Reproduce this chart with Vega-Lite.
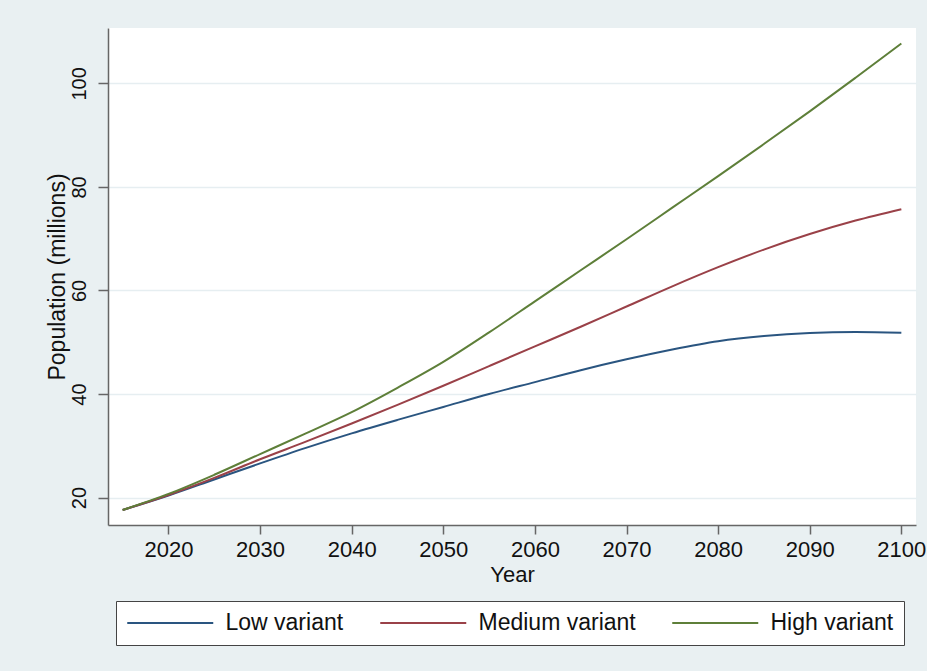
{
  "$schema": "https://vega.github.io/schema/vega-lite/v6.json",
  "autosize": {"type": "none"},
  "padding": {"left": 108, "top": 28, "right": 11, "bottom": 146},
  "width": 808,
  "height": 497,
  "background": "#e9f0f2",
  "config": {
    "font": "Liberation Sans",
    "view": {"fill": "#ffffff", "stroke": null}
  },
  "data": {
    "values": [
      {"Year": 2015, "Variant": "Low variant", "Pop": 17.6},
      {"Year": 2020, "Variant": "Low variant", "Pop": 20.4},
      {"Year": 2025, "Variant": "Low variant", "Pop": 23.5},
      {"Year": 2030, "Variant": "Low variant", "Pop": 26.6},
      {"Year": 2035, "Variant": "Low variant", "Pop": 29.6},
      {"Year": 2040, "Variant": "Low variant", "Pop": 32.4},
      {"Year": 2045, "Variant": "Low variant", "Pop": 35.0},
      {"Year": 2050, "Variant": "Low variant", "Pop": 37.5},
      {"Year": 2055, "Variant": "Low variant", "Pop": 40.0},
      {"Year": 2060, "Variant": "Low variant", "Pop": 42.3},
      {"Year": 2065, "Variant": "Low variant", "Pop": 44.6},
      {"Year": 2070, "Variant": "Low variant", "Pop": 46.7},
      {"Year": 2075, "Variant": "Low variant", "Pop": 48.6},
      {"Year": 2080, "Variant": "Low variant", "Pop": 50.2},
      {"Year": 2085, "Variant": "Low variant", "Pop": 51.2},
      {"Year": 2090, "Variant": "Low variant", "Pop": 51.8},
      {"Year": 2095, "Variant": "Low variant", "Pop": 52.0},
      {"Year": 2100, "Variant": "Low variant", "Pop": 51.85},
      {"Year": 2015, "Variant": "Medium variant", "Pop": 17.6},
      {"Year": 2020, "Variant": "Medium variant", "Pop": 20.5},
      {"Year": 2025, "Variant": "Medium variant", "Pop": 23.8},
      {"Year": 2030, "Variant": "Medium variant", "Pop": 27.4},
      {"Year": 2035, "Variant": "Medium variant", "Pop": 30.8},
      {"Year": 2040, "Variant": "Medium variant", "Pop": 34.3},
      {"Year": 2045, "Variant": "Medium variant", "Pop": 37.9},
      {"Year": 2050, "Variant": "Medium variant", "Pop": 41.6},
      {"Year": 2055, "Variant": "Medium variant", "Pop": 45.4},
      {"Year": 2060, "Variant": "Medium variant", "Pop": 49.2},
      {"Year": 2065, "Variant": "Medium variant", "Pop": 53.0},
      {"Year": 2070, "Variant": "Medium variant", "Pop": 56.9},
      {"Year": 2075, "Variant": "Medium variant", "Pop": 60.8},
      {"Year": 2080, "Variant": "Medium variant", "Pop": 64.5},
      {"Year": 2085, "Variant": "Medium variant", "Pop": 67.9},
      {"Year": 2090, "Variant": "Medium variant", "Pop": 70.9},
      {"Year": 2095, "Variant": "Medium variant", "Pop": 73.5},
      {"Year": 2100, "Variant": "Medium variant", "Pop": 75.7},
      {"Year": 2015, "Variant": "High variant", "Pop": 17.6},
      {"Year": 2020, "Variant": "High variant", "Pop": 20.7},
      {"Year": 2025, "Variant": "High variant", "Pop": 24.4},
      {"Year": 2030, "Variant": "High variant", "Pop": 28.4},
      {"Year": 2035, "Variant": "High variant", "Pop": 32.4},
      {"Year": 2040, "Variant": "High variant", "Pop": 36.5},
      {"Year": 2045, "Variant": "High variant", "Pop": 41.2},
      {"Year": 2050, "Variant": "High variant", "Pop": 46.2},
      {"Year": 2055, "Variant": "High variant", "Pop": 51.9},
      {"Year": 2060, "Variant": "High variant", "Pop": 57.9},
      {"Year": 2065, "Variant": "High variant", "Pop": 63.9},
      {"Year": 2070, "Variant": "High variant", "Pop": 69.9},
      {"Year": 2075, "Variant": "High variant", "Pop": 76.0},
      {"Year": 2080, "Variant": "High variant", "Pop": 82.1},
      {"Year": 2085, "Variant": "High variant", "Pop": 88.3},
      {"Year": 2090, "Variant": "High variant", "Pop": 94.6},
      {"Year": 2095, "Variant": "High variant", "Pop": 101.1},
      {"Year": 2100, "Variant": "High variant", "Pop": 107.7}
    ]
  },
  "mark": {"type": "line", "interpolate": "monotone", "strokeWidth": 2, "clip": true},
  "encoding": {
    "x": {
      "field": "Year",
      "type": "quantitative",
      "scale": {"domain": [2013.4, 2101.6], "nice": false, "zero": false},
      "axis": {
        "title": "Year",
        "values": [2020, 2030, 2040, 2050, 2060, 2070, 2080, 2090, 2100],
        "format": "d",
        "grid": false,
        "domainColor": "#666666",
        "domainWidth": 1.5,
        "tickColor": "#666666",
        "tickWidth": 1.5,
        "tickSize": 9,
        "labelFontSize": 22,
        "labelColor": "#111111",
        "labelPadding": 5,
        "labelFlush": false,
        "labelOverlap": false,
        "titleFontSize": 22,
        "titleFontWeight": "normal",
        "titleColor": "#111111",
        "titlePadding": 4
      }
    },
    "y": {
      "field": "Pop",
      "type": "quantitative",
      "scale": {"domain": [14.7, 110.7], "nice": false, "zero": false},
      "axis": {
        "title": "Population (millions)",
        "values": [20, 40, 60, 80, 100],
        "grid": true,
        "gridColor": "#e6eef1",
        "gridWidth": 1.5,
        "domainColor": "#666666",
        "domainWidth": 1.5,
        "tickColor": "#666666",
        "tickWidth": 1.5,
        "tickSize": 10,
        "labelAngle": -90,
        "labelAlign": "center",
        "labelBaseline": "alphabetic",
        "labelFontSize": 20,
        "labelColor": "#111111",
        "labelPadding": 13,
        "labelOverlap": false,
        "titleFontSize": 23,
        "titleFontWeight": "normal",
        "titleColor": "#111111",
        "titlePadding": 0
      }
    },
    "color": {
      "field": "Variant",
      "type": "nominal",
      "sort": ["Low variant", "Medium variant", "High variant"],
      "scale": {"domain": ["Low variant", "Medium variant", "High variant"], "range": ["#2a5580", "#9a4148", "#5e7f39"]},
      "legend": {
        "title": null,
        "orient": "none",
        "direction": "horizontal",
        "legendX": 8,
        "legendY": 573,
        "symbolType": "M-4,0H4",
        "symbolSize": 462.25,
        "symbolOffset": 32.25,
        "symbolStrokeWidth": 2,
        "labelFontSize": 23,
        "labelColor": "#111111",
        "labelOffset": 43.25,
        "columnPadding": 32,
        "padding": 10,
        "strokeColor": "#444444",
        "fillColor": "#ffffff"
      }
    }
  }
}
